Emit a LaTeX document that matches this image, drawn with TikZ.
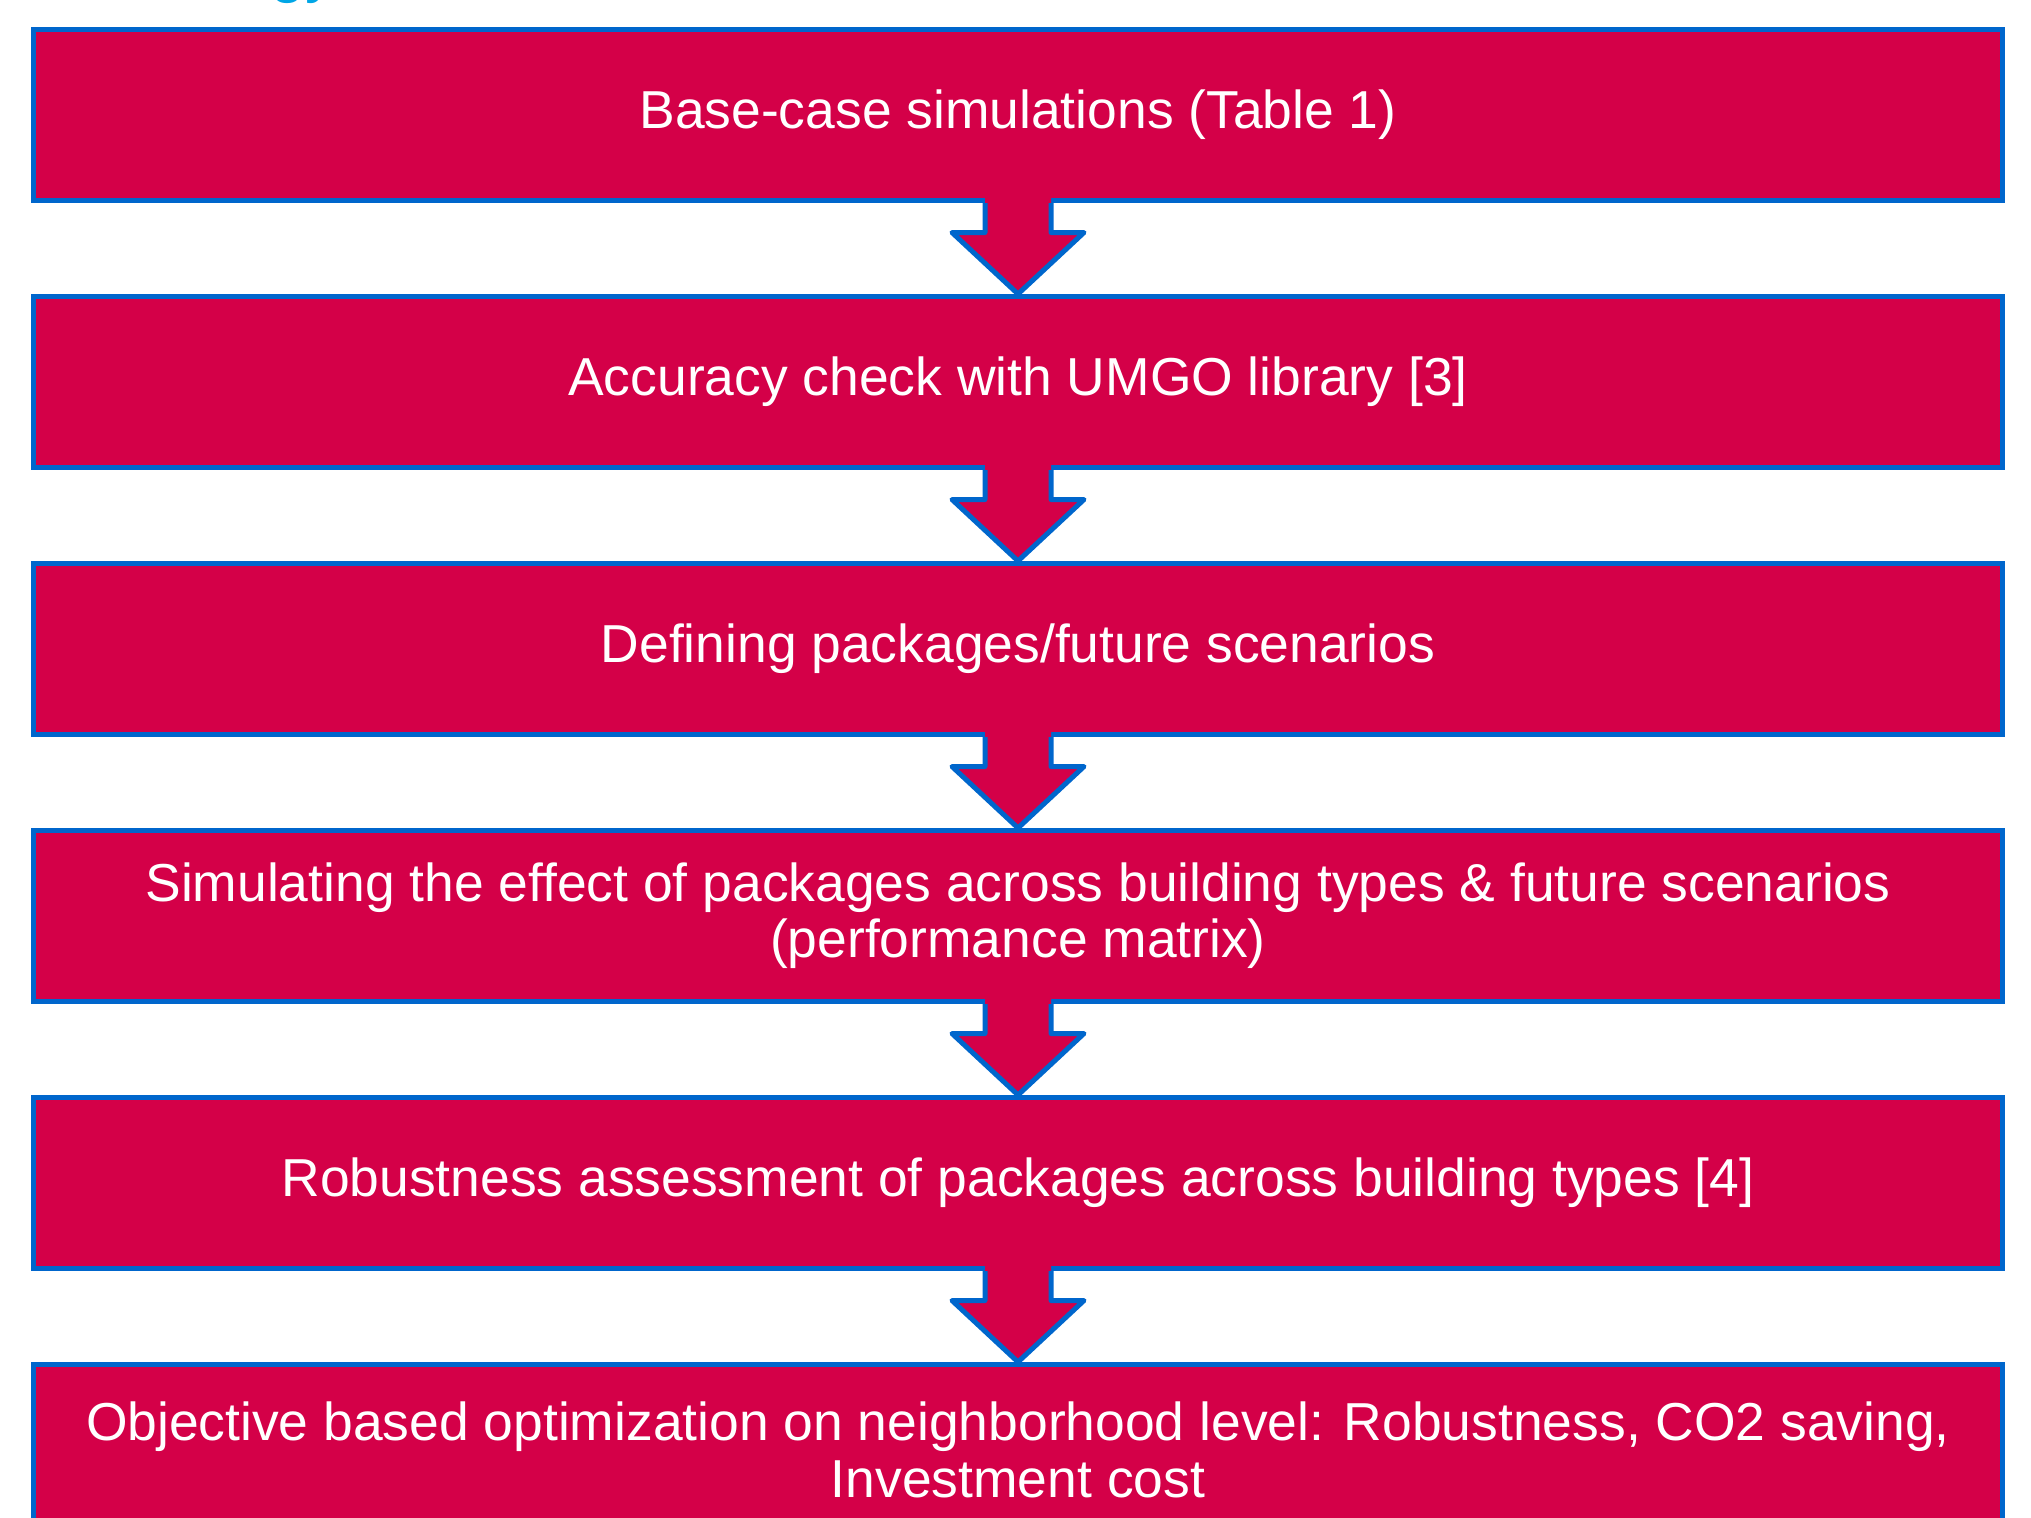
\documentclass[tikz,border=0pt]{standalone}
\usepackage{fontspec}
\setmainfont{Liberation Sans}
\usepackage{tikz}
\usetikzlibrary{calc}
\definecolor{crimson}{RGB}{212,0,72}
\definecolor{edgeblue}{RGB}{0,102,204}
\definecolor{titleblue}{RGB}{0,166,230}

\begin{document}
\begin{tikzpicture}[
    stage/.style={rectangle, draw=edgeblue, fill=crimson, line width=0.05cm,
        minimum width=19.69cm, minimum height=1.71cm, inner sep=0pt,
        text=white, align=center, font=\fontsize{15.2}{16}\selectfont},
    flow/.style={draw=edgeblue, line width=0.05cm, line join=round},
    ]
    \useasboundingbox (0,0) rectangle (20.31,-15.18);
    \node[titleblue, anchor=base east, font=\fontsize{18}{20}\selectfont] (title) at (3.5,0.1) {Methodology};
    % Stages
    \node[stage](st*1) at (10.18,-1.15)  {Base-case simulations (Table 1)};
    \node[stage](st*2) at (10.18,-3.82)  {Accuracy check with UMGO library [3]};
    \node[stage](st*3) at (10.18,-6.49)  {Defining packages/future scenarios};
    \node[stage](st*4) at (10.18,-9.16)  {Simulating the effect of packages across building types \& future scenarios\\(performance matrix)};
    \node[stage](st*5) at (10.18,-11.83) {Robustness assessment of packages across building types [4]};
    \node[stage](st*6) at (10.18,-14.50) {Objective based optimization on neighborhood level: Robustness, CO2 saving,\\Investment cost};
    % Block arrows between stages
    \foreach \a/\b in {1/2, 2/3, 3/4, 4/5, 5/6} {
        \fill[crimson] ($(st*\a.south)+(-0.33,0.1)$) -- ($(st*\a.south)+(-0.33,-0.295)$)
            -- ($(st*\a.south)+(-0.66,-0.295)$) -- (st*\b.north)
            -- ($(st*\a.south)+(0.66,-0.295)$) -- ($(st*\a.south)+(0.33,-0.295)$)
            -- ($(st*\a.south)+(0.33,0.1)$) -- cycle;
        \draw[flow] ($(st*\a.south)+(-0.33,0)$) -- ++(0,-0.295) -- ++(-0.33,0) -- (st*\b.north)
            -- ($(st*\a.south)+(0.66,-0.295)$) -- ++(-0.33,0) -- ++(0,0.295);
    }
\end{tikzpicture}
\end{document}
